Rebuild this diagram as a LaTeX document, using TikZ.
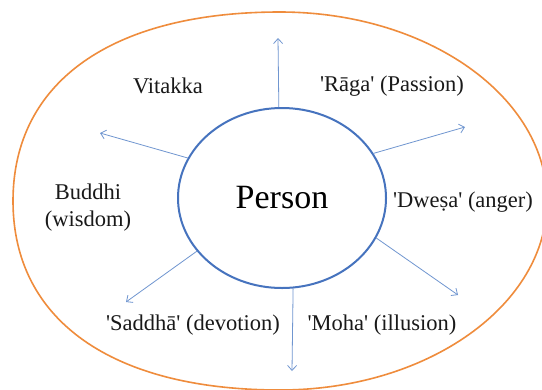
\documentclass[tikz,border=0pt]{standalone}
\usepackage{fontspec}
\setmainfont{Liberation Serif}[Ligatures=TeXOff]
\usetikzlibrary{arrows.meta,shapes.geometric}
\definecolor{outerorange}{RGB}{239,140,60}
\definecolor{circblue}{RGB}{70,115,190}
\definecolor{arrblue}{RGB}{112,150,208}
\tikzset{
  lbl/.style={font=\fontsize{22.5bp}{27bp}\selectfont, inner sep=0pt, text=black!90},
  ray/.style={draw=arrblue, line width=0.8bp, -{Straight Barb[length=5bp,width=9bp,line width=0.8bp]}}
}
\begin{document}
\begin{tikzpicture}[x=1bp,y=-1bp]
\useasboundingbox (0,0) rectangle (542,389);
\fill[white] (0,0) rectangle (542,389);
% outer boundary (slightly squarer on the left, as in the reference)
\draw[outerorange, line width=1.6bp]
  (280,12) .. controls (111.8,12) and (13,81.9) .. (13,201)
           .. controls (13,320.1) and (111.8,390) .. (280,390)
           .. controls (427.4,390) and (547,305.3) .. (547,201)
           .. controls (547,96.7) and (427.4,12) .. cycle;
\node[draw=circblue, line width=2bp, ellipse, minimum width=208bp, minimum height=180bp, inner sep=0pt, font=\fontsize{34bp}{40bp}\selectfont] (p) at (282,198) {\raisebox{-2bp}{Person}};
\coordinate (tu) at (278,38);
\coordinate (tur) at (465,127);
\coordinate (tul) at (100,133);
\coordinate (tdr) at (458,295);
\coordinate (tdl) at (126,302);
\coordinate (td) at (292,371);
\draw[ray] (p.92.5) -- (tu);
\draw[ray] (p.26) -- (tur);
\draw[ray] (p.157.7) -- (tul);
\draw[ray] (p.-23.3) -- (tdr);
\draw[ray] (p.212.4) -- (tdl);
\draw[ray] (p.-83.7) -- (td);
\node[lbl] (vit) at (168,86) {Vitakka};
\node[lbl] (rag) at (392,86) {'Rāga' (Passion)};
\node[lbl] (dwe) at (463,202) {'Dweṣa' (anger)};
\node[lbl, align=center] (bud) at (88,208) {Buddhi\\(wisdom)};
\node[lbl] (sad) at (193,325) {'Saddhā' (devotion)};
\node[lbl] (moh) at (382,325) {'Moha' (illusion)};
\end{tikzpicture}
\end{document}
